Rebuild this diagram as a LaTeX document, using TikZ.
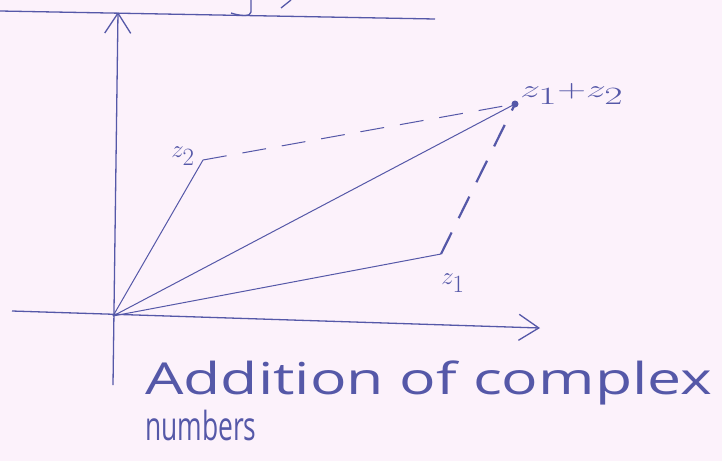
\documentclass[tikz,border=0pt]{standalone}
\usepackage{fontspec}
\usetikzlibrary{arrows.meta}
\newfontfamily\handfont{Open Sans}
\definecolor{ink}{HTML}{5558A8}
\definecolor{paper}{HTML}{FCF2FB}
\begin{document}
\begin{tikzpicture}[x=1pt,y=-1pt,
  pen/.style={draw=ink,line width=1.3pt},
  axis/.style={pen,-{Straight Barb[length=20pt,width=26pt,line width=1.3pt]}},
  dashline/.style={pen,dash pattern=on 24pt off 16pt},
  lab/.style={text=ink,font=\fontsize{36}{40}\selectfont,inner sep=0pt},
  captext/.style={text=ink,font=\handfont\fontsize{44}{50}\selectfont,anchor=base west,inner sep=0pt}]
\fill[paper] (0,0) rectangle (722,461);
\useasboundingbox (0,0) rectangle (722,461);
% top line and cut-off strokes
\coordinate (tl) at (0,11);
\coordinate (tr) at (435,19);
\draw[pen] (tl) -- (tr);
\draw[pen] (251,0) -- (251,12) .. controls (251,17) and (240,16) .. (231,13);
\draw[pen] (281,8) -- (291,0);
% axes
\coordinate (O) at (113,316);
\coordinate (ybot) at (113,385);
\coordinate (ytop) at (118,12);
\coordinate (xl) at (12,311);
\coordinate (xr) at (540,328);
\draw[axis] (ybot) -- (ytop);
\draw[axis] (xl) -- (xr);
% points
\coordinate (z1) at (441,254);
\coordinate (z2) at (203,160);
\coordinate (s) at (515,104);
\draw[pen,line width=1pt] (O) -- (z1);
\draw[pen,line width=1pt] (O) -- (z2);
\draw[pen,line width=1pt] (O) -- (s);
\draw[dashline,line width=1pt] (z2) -- (s);
\draw[dashline,line width=2.2pt] (z1) -- (s);
\fill[ink] (s) circle (3.5pt);
% labels
\node[lab] (lz2) at (183,156) {$z_2$};
\node[lab] (lz1) at (453,283) {$z_1$};
\node[lab,anchor=west,xscale=1.6] (ls) at (520,94) {$z_1{+}z_2$};
\node[captext,xscale=1.38] (c1) at (145,394) {Addition of complex};
\node[captext,xscale=0.66,font=\handfont\fontsize{40}{44}\selectfont] (c2) at (145,440) {numbers};
\end{tikzpicture}
\end{document}
